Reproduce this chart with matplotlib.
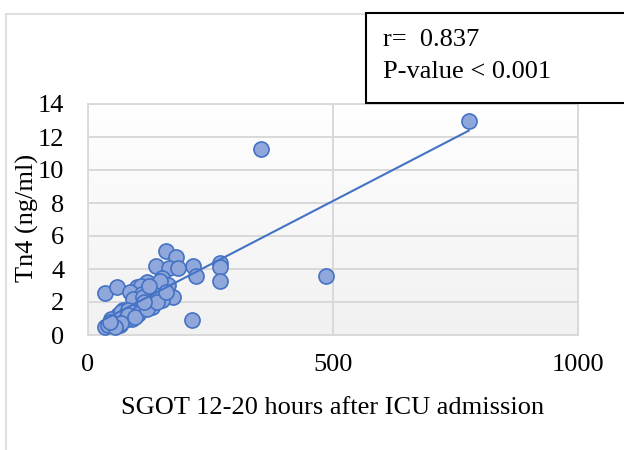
import numpy as np
import matplotlib
matplotlib.use("Agg")
import matplotlib.pyplot as plt
from matplotlib.patches import Rectangle
from matplotlib.lines import Line2D

# SGOT (12-20 h after ICU admission) vs Tn4 (ng/ml)
sgot = [777, 353, 486, 269, 269, 269, 215, 220, 212, 159, 179, 138, 165, 183,
        174, 151, 163, 151, 35, 59, 35, 59,
        120, 100, 108, 86, 110, 133, 147, 92, 112, 130, 108, 71, 79, 61, 49,
        65, 90, 102, 47, 68, 82, 102, 75, 82, 51, 41, 68, 96, 120, 140, 125,
        115, 55, 45, 160]
tn4 = [13.0, 11.3, 3.55, 4.35, 4.1, 3.25, 4.2, 3.6, 0.9, 5.1, 4.75, 4.2, 4.05,
       4.05, 2.3, 3.45, 3.05, 2.1, 2.55, 2.9, 0.5, 0.8,
       3.2, 2.9, 3.0, 2.6, 2.5, 2.7, 3.3, 2.2, 2.3, 1.7, 1.7, 1.5, 1.3, 1.2, 0.9,
       0.6, 1.0, 1.4, 1.0, 1.4, 1.5, 1.3, 0.9, 1.2, 0.7, 0.6, 0.7, 1.1, 1.6, 2.0,
       3.0, 2.0, 0.5, 0.8, 2.6]

x_ticks = [0, 500, 1000]
y_ticks = [0, 2, 4, 6, 8, 10, 12, 14]
stats_lines = ["r=  0.837", "P-value < 0.001"]

x_label = "SGOT 12-20 hours after ICU admission"
y_label = "Tn4 (ng/ml)"

plt.rcParams["font.family"] = ["Liberation Serif", "DejaVu Serif"]
FS = 19
W, H = 624, 450

fig = plt.figure(figsize=(W / 100, H / 100), dpi=100)
ax = fig.add_axes([88 / W, (H - 335) / H, 490 / W, 231 / H])

# soft vertical gradient in the plot area
grad = np.linspace(1.0, 0.0, 256).reshape(-1, 1)
top = np.array([1.0, 1.0, 1.0])
bottom = np.array([0.945, 0.945, 0.945])
img = bottom + (top - bottom) * grad[..., None]
ax.imshow(img, extent=[0, 1, 0, 1], transform=ax.transAxes, aspect="auto",
          zorder=0, interpolation="bicubic")

ax.set_xlim(0, 1000)
ax.set_ylim(0, 14)
ax.set_xticks(x_ticks)
ax.set_yticks(y_ticks)
ax.set_xticklabels([str(t) for t in x_ticks], fontsize=FS)
ax.set_yticklabels([str(t) for t in y_ticks], fontsize=FS)
ax.tick_params(length=0, pad=17)
ax.tick_params(axis="x", pad=14)
ax.grid(True, color="#D9D9D9", linewidth=1.4, zorder=1)
ax.set_axisbelow(True)
for s in ax.spines.values():
    s.set_color("#D9D9D9")
    s.set_linewidth(1.4)

ax.scatter(sgot, tn4, s=118, facecolor="#8FA7DA", edgecolor="#4472C4",
           linewidth=1.2, zorder=3)

# least-squares trend line over the observed SGOT range
xs = np.array(sgot, dtype=float)
ys = np.array(tn4, dtype=float)
slope, intercept = np.polyfit(xs, ys, 1)
xl = np.array([xs.min(), xs.max()])
ax.plot(xl, slope * xl + intercept, color="#4472C4", linewidth=1.5, zorder=4)

ax.set_xlabel(x_label, fontsize=FS)
ax.xaxis.set_label_coords(0.5, -(408 - 335) / 231, transform=ax.transAxes)
ax.xaxis.label.set_va("center")
ax.set_ylabel(y_label, fontsize=FS)
ax.yaxis.set_label_coords(-(88 - 27) / 490, (335 - 218) / 231,
                          transform=ax.transAxes)
ax.yaxis.label.set_va("center")

# outer chart border
fig.add_artist(Line2D([6 / W, 6 / W], [0, (H - 14) / H], transform=fig.transFigure,
                      color="#D9D9D9", linewidth=1.2))
fig.add_artist(Line2D([6 / W, 1], [(H - 14) / H, (H - 14) / H],
                      transform=fig.transFigure, color="#D9D9D9", linewidth=1.2))

# statistics box
fig.add_artist(Rectangle((366 / W, (H - 103) / H), (W - 366 + 10) / W, 90 / H,
                         transform=fig.transFigure, facecolor="white",
                         edgecolor="black", linewidth=1.5, zorder=5))
fig.text(383 / W, (H - 40) / H, stats_lines[0], fontsize=FS, va="center",
         ha="left", zorder=6)
fig.text(383 / W, (H - 72) / H, stats_lines[1], fontsize=FS, va="center",
         ha="left", zorder=6)

fig.savefig("out.png", dpi=100)
